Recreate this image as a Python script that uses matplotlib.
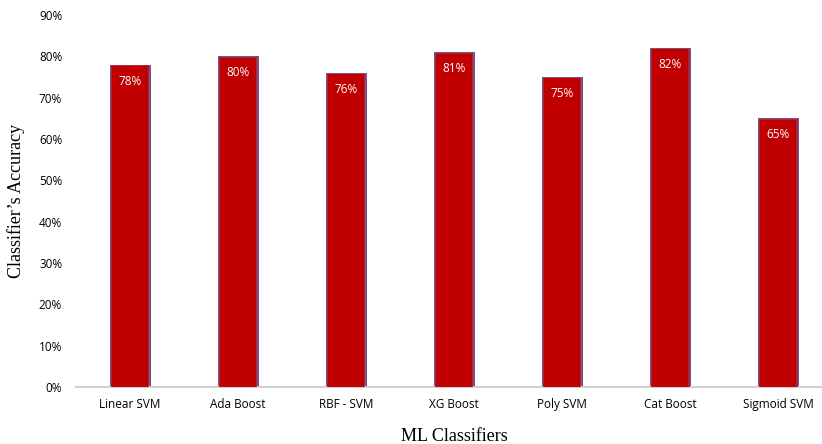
import numpy as np
import matplotlib.pyplot as plt

classifiers = ['Linear SVM', 'Ada Boost', 'RBF - SVM', 'XG Boost', 'Poly SVM', 'Cat Boost', 'Sigmoid SVM']
accuracy = [78, 80, 76, 81, 75, 82, 65]
yticks = list(range(0, 91, 10))

fig = plt.figure(figsize=(8.22, 4.44), dpi=100)
ax = fig.add_axes([0.0925, 0.128, 0.92, 0.838])

x = np.arange(len(classifiers))
w = 0.38
# bar with soft purple edges, red centre
ax.bar(x, accuracy, width=w, color='#84527E', zorder=2)
ax.bar(x, [a - 0.15 for a in accuracy], width=w * 0.94, color='#A02848', zorder=3)
ax.bar(x, [a - 0.3 for a in accuracy], width=w * 0.87, color='#C00000', zorder=4)
for xi, a in zip(x, accuracy):
    ax.text(xi, a - 4.0, f'{a}%', ha='center', va='center', color='white',
            fontsize=8.5, family='Open Sans', zorder=5)

ax.set_xlim(-0.5, 6.5)
ax.set_ylim(0, 90)
ax.set_yticks(yticks)
ax.set_yticklabels([f'{t}%' for t in yticks], family='Open Sans', fontsize=8.5)
ax.set_xticks(x)
ax.set_xticklabels(classifiers, family='Open Sans', fontsize=8.5)
ax.tick_params(length=0, pad=8)
ax.tick_params(axis='y', pad=10)

for s in ['top', 'right', 'left']:
    ax.spines[s].set_visible(False)
ax.spines['bottom'].set_color('#D0D0D0')
ax.spines['bottom'].set_linewidth(1.5)

ax.set_xlabel('ML Classifiers', family='Liberation Serif', fontsize=13, labelpad=12)
ax.set_ylabel('Classifier’s Accuracy', family='Liberation Serif', fontsize=13, labelpad=10)

fig.savefig('out.png', dpi=100)
